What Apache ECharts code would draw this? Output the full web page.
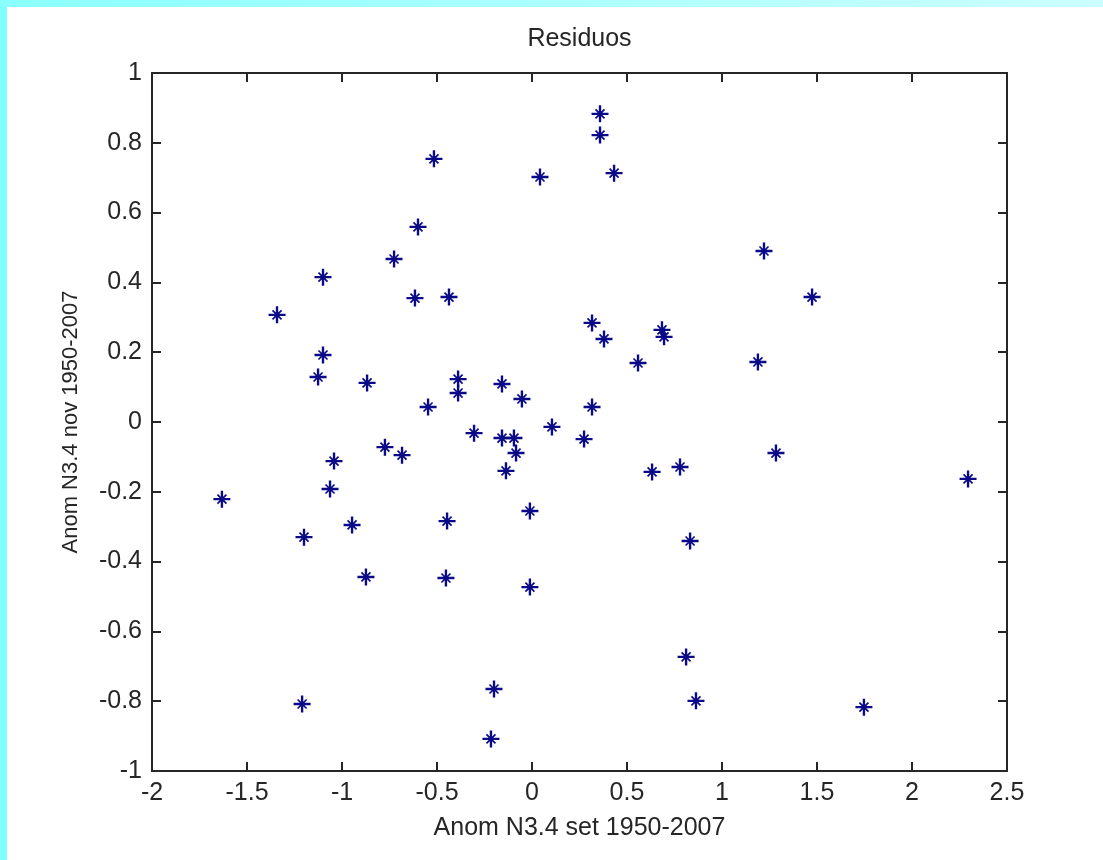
<!DOCTYPE html>
<html>
<head>
<meta charset="utf-8">
<script src="https://cdn.jsdelivr.net/npm/echarts@6/dist/echarts.min.js"></script>
<style>
html,body{margin:0;padding:0;background:#fff;}
#chart{width:1103px;height:860px;}
</style>
</head>
<body>
<div id="chart"></div>
<script>
// Data
const xValues = [-1.632,-1.342,-1.210,-1.200,-1.126,-1.100,-1.100,-1.063,-1.042,-0.947,-0.868,-0.874,-0.774,-0.726,-0.684,-0.616,-0.600,-0.547,-0.516,-0.447,-0.453,-0.437,-0.389,-0.389,-0.305,-0.216,-0.200,-0.158,-0.158,-0.095,-0.084,-0.137,-0.053,-0.011,-0.011,0.042,0.105,0.274,0.316,0.316,0.358,0.358,0.379,0.432,0.558,0.632,0.684,0.695,0.779,0.811,0.832,0.863,1.189,1.221,1.284,1.474,1.747,2.295];
const yValues = [-0.221,0.307,-0.808,-0.330,0.129,0.415,0.192,-0.192,-0.112,-0.295,0.112,-0.444,-0.072,0.467,-0.095,0.355,0.559,0.043,0.754,-0.284,-0.447,0.358,0.123,0.083,-0.032,-0.908,-0.765,0.109,-0.046,-0.046,-0.089,-0.140,0.066,-0.255,-0.473,0.702,-0.014,-0.049,0.284,0.043,0.883,0.822,0.238,0.713,0.169,-0.143,0.264,0.244,-0.129,-0.673,-0.341,-0.799,0.172,0.490,-0.089,0.358,-0.817,-0.163];
const titleText = 'Residuos';
const xName = 'Anom N3.4 set 1950-2007';
const yName = 'Anom N3.4 nov 1950-2007';
const xMin = -2, xMax = 2.5, xStep = 0.5;
const yMin = -1, yMax = 1, yStep = 0.2;

const points = xValues.map((x, i) => [x, yValues[i]]);

const asterisk = 'path://M0 8.6H20V11.4H0Z M8.6 0H11.4V20H8.6Z M4.0 5.4L5.4 4.0L16.0 14.6L14.6 16.0Z M14.6 4.0L16.0 5.4L5.4 16.0L4.0 14.6Z M7.6 7.6H12.4V12.4H7.6Z';
const FONT = '"Liberation Sans", Arial, sans-serif';
const axisColor = '#262626';
const textColor = '#262626';

const chart = echarts.init(document.getElementById('chart'), null, {renderer: 'canvas'});
const frameLine = {show: true, onZero: false, lineStyle: {color: axisColor, width: 2}};
const innerTick = {show: true, inside: true, length: 9, lineStyle: {color: axisColor, width: 2}};
chart.setOption({
  backgroundColor: '#ffffff',
  animation: false,
  grid: {left: 152, top: 73, right: 96, bottom: 89, containLabel: false},
  graphic: [
    {type: 'rect', shape: {x: 0, y: 0, width: 7, height: 860}, style: {fill: '#80ffff'}, z: 100},
    {type: 'rect', shape: {x: 0, y: 0, width: 1103, height: 7},
     style: {fill: new echarts.graphic.LinearGradient(0, 0, 1, 0, [{offset: 0, color: '#8affff'}, {offset: 1, color: '#ccffff'}])}, z: 100},
    {type: 'text', x: 579.5, y: 39, style: {text: titleText, align: 'center', verticalAlign: 'middle', font: '25px ' + FONT, fill: textColor}}
  ],
  xAxis: [
    {type: 'value', position: 'bottom', min: xMin, max: xMax, interval: xStep,
     axisLine: frameLine, axisTick: innerTick, splitLine: {show: false},
     axisLabel: {show: true, margin: 10, color: textColor, fontSize: 25, fontFamily: FONT},
     name: xName, nameLocation: 'middle', nameGap: 45,
     nameTextStyle: {color: textColor, fontSize: 25, fontFamily: FONT}},
    {type: 'value', position: 'top', min: xMin, max: xMax, interval: xStep,
     axisLine: frameLine, axisTick: innerTick, splitLine: {show: false}, axisLabel: {show: false}}
  ],
  yAxis: [
    {type: 'value', position: 'left', min: yMin, max: yMax, interval: yStep,
     axisLine: frameLine, axisTick: innerTick, splitLine: {show: false},
     axisLabel: {show: true, margin: 10, color: textColor, fontSize: 25, fontFamily: FONT},
     name: yName, nameLocation: 'middle', nameGap: 70,
     nameTextStyle: {color: textColor, fontSize: 22, fontFamily: FONT}},
    {type: 'value', position: 'right', min: yMin, max: yMax, interval: yStep,
     axisLine: frameLine, axisTick: innerTick, splitLine: {show: false}, axisLabel: {show: false}}
  ],
  series: [{
    type: 'scatter', xAxisIndex: 0, yAxisIndex: 0,
    data: points,
    symbol: asterisk, symbolSize: 17,
    itemStyle: {color: '#0a0a88', opacity: 1}
  }]
});
</script>
</body>
</html>
